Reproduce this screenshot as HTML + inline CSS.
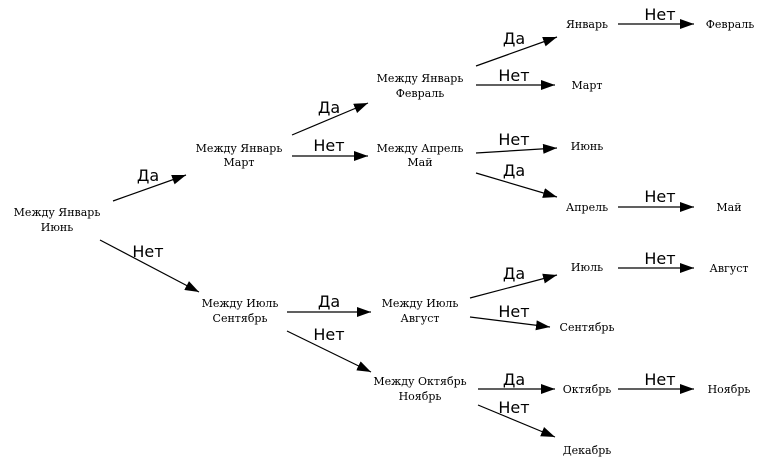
<!DOCTYPE html>
<html><head><meta charset="utf-8"><style>
html,body{margin:0;padding:0;background:#fff;}
svg{display:block}
.n{font-family:"DejaVu Serif","Liberation Serif",serif;font-size:11px;text-anchor:middle;fill:#000}
.e{font-family:"DejaVu Sans","Liberation Sans",sans-serif;font-size:16px;text-anchor:middle;fill:#000}
line{stroke:#000;stroke-width:1.2}
</style></head><body>
<svg width="768" height="475" viewBox="0 0 768 475" xmlns="http://www.w3.org/2000/svg">
<defs><marker id="a" markerWidth="14" markerHeight="10" refX="14" refY="5" orient="auto" markerUnits="userSpaceOnUse"><path d="M0,0 L14,5 L0,10 Z" fill="#000"/></marker></defs>
<g class="n">
<text x="57" y="216">Между Январь</text><text x="57" y="231">Июнь</text>
<text x="239" y="152">Между Январь</text><text x="239" y="166">Март</text>
<text x="420" y="82">Между Январь</text><text x="420" y="97">Февраль</text>
<text x="420" y="152">Между Апрель</text><text x="420" y="166">Май</text>
<text x="240" y="307">Между Июль</text><text x="240" y="322">Сентябрь</text>
<text x="420" y="307">Между Июль</text><text x="420" y="322">Август</text>
<text x="420" y="385">Между Октябрь</text><text x="420" y="400">Ноябрь</text>
<text x="587" y="28">Январь</text><text x="730" y="28">Февраль</text>
<text x="587" y="89">Март</text><text x="587" y="150">Июнь</text>
<text x="587" y="211">Апрель</text><text x="729" y="211">Май</text>
<text x="587" y="271">Июль</text><text x="729" y="272">Август</text>
<text x="587" y="331">Сентябрь</text><text x="587" y="393">Октябрь</text>
<text x="729" y="393">Ноябрь</text><text x="587" y="454">Декабрь</text>
</g>
<g marker-end="url(#a)">
<line x1="113" y1="201" x2="186" y2="175"/>
<line x1="100" y1="240" x2="199" y2="292"/>
<line x1="292" y1="135" x2="368" y2="103"/>
<line x1="292" y1="156" x2="368" y2="156"/>
<line x1="476" y1="66" x2="557" y2="37"/>
<line x1="476" y1="85" x2="555" y2="85"/>
<line x1="476" y1="153" x2="557" y2="148"/>
<line x1="476" y1="173" x2="557" y2="197"/>
<line x1="618" y1="24" x2="694" y2="24"/>
<line x1="618" y1="207" x2="694" y2="207"/>
<line x1="287" y1="312" x2="371" y2="312"/>
<line x1="287" y1="331" x2="371" y2="372"/>
<line x1="470" y1="298" x2="557" y2="275"/>
<line x1="470" y1="317" x2="550" y2="327"/>
<line x1="618" y1="268" x2="694" y2="268"/>
<line x1="478" y1="389" x2="555" y2="389"/>
<line x1="478" y1="405" x2="555" y2="437"/>
<line x1="618" y1="389" x2="694" y2="389"/>
</g>
<g class="e">
<text x="148" y="181">Да</text>
<text x="148" y="257">Нет</text>
<text x="329" y="113">Да</text>
<text x="329" y="151">Нет</text>
<text x="514" y="44">Да</text>
<text x="514" y="81">Нет</text>
<text x="514" y="145">Нет</text>
<text x="514" y="176">Да</text>
<text x="660" y="20">Нет</text>
<text x="660" y="202">Нет</text>
<text x="329" y="307">Да</text>
<text x="329" y="340">Нет</text>
<text x="514" y="279">Да</text>
<text x="514" y="317">Нет</text>
<text x="660" y="264">Нет</text>
<text x="514" y="385">Да</text>
<text x="514" y="413">Нет</text>
<text x="660" y="385">Нет</text>
</g>
</svg>
</body></html>
